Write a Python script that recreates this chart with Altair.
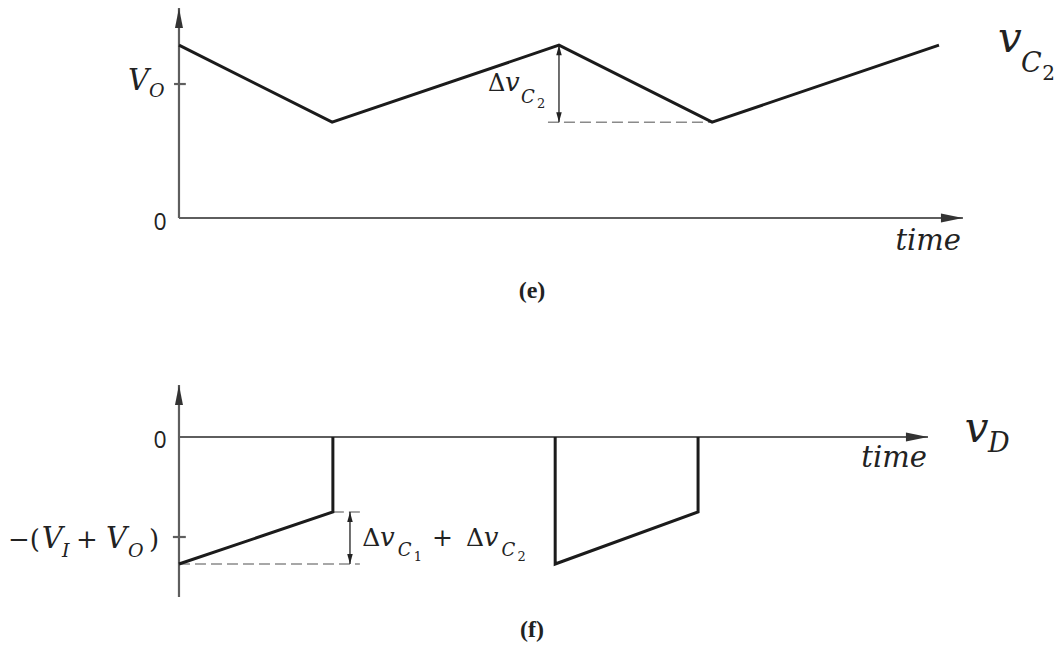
import altair as alt
import pandas as pd

# ---- waveforms (time in switching periods, V_O = 10 and V_I + V_O = 10 units) ----
vc2_time = [0.0, 0.403, 1.0, 1.403, 2.0]
vc2_value = [12.9, 7.15, 12.9, 7.15, 12.9]

vd_time = [0.0, 0.405, 0.405, 0.99, 0.99, 1.366, 1.366]
vd_value = [-12.7, -7.5, 0.0, 0.0, -12.7, -7.5, 0.0]
vd_pulse = [1, 1, 1, 2, 2, 2, 2]

V_O = 10.0
V_IO = 10.0          # V_I + V_O
VC2_MAX, VC2_MIN = 12.9, 7.15
VD_LOW, VD_HIGH = -12.7, -7.5

# ---- frame ----
T_DOMAIN = [-0.471, 2.329]
TOP_DOMAIN = [-7.61, 16.27]
BOT_DOMAIN = [-22.2, 11.7]
W, H_TOP, H_BOT = 1064, 320, 339

AXIS_COLOR = "#5e5e5e"
WAVE_COLOR = "#1b1b1b"
DASH_COLOR = "#8a8a8a"
TEXT_COLOR = "#222222"

FONTS = {
    "it": dict(font="DejaVu Serif", fontStyle="italic", fontWeight="normal"),
    "up": dict(font="DejaVu Serif", fontStyle="normal", fontWeight="normal"),
    "sans": dict(font="Open Sans", fontStyle="normal", fontWeight="normal"),
    "bold": dict(font="Liberation Serif", fontStyle="normal", fontWeight="bold"),
}

ARROW_UP = "M 0 0 L 0.4 2 L -0.4 2 Z"
ARROW_RIGHT = "M 0 0 L -2 0.4 L -2 -0.4 Z"
HEAD_UP = "M 0 0 L 0.55 2 L -0.55 2 Z"
HEAD_DOWN = "M 0 0 L 0.55 -2 L -0.55 -2 Z"


def scales(ydom):
    xs = alt.Scale(domain=T_DOMAIN, nice=False, zero=False)
    ys = alt.Scale(domain=ydom, nice=False, zero=False)
    return xs, ys


def rules(rows, ydom, color, width, dash=None):
    xs, ys = scales(ydom)
    df = pd.DataFrame(rows, columns=["t", "t2", "v", "v2"])
    kw = dict(color=color, strokeWidth=width)
    if dash:
        kw["strokeDash"] = dash
    return alt.Chart(df).mark_rule(**kw).encode(
        x=alt.X("t:Q", scale=xs, axis=None),
        x2="t2:Q",
        y=alt.Y("v:Q", scale=ys, axis=None),
        y2="v2:Q",
    )


def heads(rows, ydom, shape, size, color):
    xs, ys = scales(ydom)
    df = pd.DataFrame(rows, columns=["t", "v"])
    return alt.Chart(df).mark_point(
        shape=shape, filled=True, size=size, color=color, opacity=1, strokeWidth=0
    ).encode(
        x=alt.X("t:Q", scale=xs, axis=None),
        y=alt.Y("v:Q", scale=ys, axis=None),
    )


def labels(pieces, ydom):
    xs, ys = scales(ydom)
    layers = []
    for text, t, v, size, kind, align in pieces:
        df = pd.DataFrame({"text": [text], "t": [t], "v": [v]})
        layers.append(
            alt.Chart(df).mark_text(
                align=align, baseline="alphabetic", color=TEXT_COLOR,
                fontSize=size, **FONTS[kind]
            ).encode(
                x=alt.X("t:Q", scale=xs, axis=None),
                y=alt.Y("v:Q", scale=ys, axis=None),
                text="text:N",
            )
        )
    return layers


# ---------------- panel (e): capacitor voltage v_C2 ----------------
xs, ys = scales(TOP_DOMAIN)
vc2_df = pd.DataFrame({"t": vc2_time, "v": vc2_value})
vc2_line = alt.Chart(vc2_df).mark_line(color=WAVE_COLOR, strokeWidth=3).encode(
    x=alt.X("t:Q", scale=xs, axis=None),
    y=alt.Y("v:Q", scale=ys, axis=None),
)

top_pieces = [
    ("V", -0.134, 9.55, 29, "it", "left"),
    ("O", -0.079, 9.03, 19, "it", "left"),
    ("0", -0.05, -0.90, 23, "sans", "center"),
    ("time", 2.058, -2.39, 29, "it", "right"),
    ("v", 2.155, 12.39, 42, "it", "left"),
    ("C", 2.216, 10.90, 27, "it", "left"),
    ("2", 2.272, 10.30, 20, "up", "left"),
    ("Δ", 0.813, 9.48, 24, "up", "left"),
    ("v", 0.858, 9.48, 26, "it", "left"),
    ("C", 0.900, 8.58, 18, "it", "left"),
    ("2", 0.942, 8.20, 13, "up", "left"),
    ("(e)", 0.929, -5.95, 24, "bold", "center"),
]

top = alt.layer(
    rules([(0, 0, 0, 15.67), (0, 2.063, 0, 0)], TOP_DOMAIN, AXIS_COLOR, 2.2),
    rules([(-0.013, 0.018, V_O, V_O)], TOP_DOMAIN, AXIS_COLOR, 2.2),
    rules([(0.971, 1.403, VC2_MIN, VC2_MIN)], TOP_DOMAIN, DASH_COLOR, 1.6, [11, 5]),
    rules([(1.0, 1.0, VC2_MIN, VC2_MAX)], TOP_DOMAIN, "#222222", 1.3),
    vc2_line,
    heads([(0, 15.67)], TOP_DOMAIN, ARROW_UP, 400, "#333333"),
    heads([(2.063, 0)], TOP_DOMAIN, ARROW_RIGHT, 484, "#333333"),
    heads([(1.0, VC2_MAX)], TOP_DOMAIN, HEAD_UP, 100, "#222222"),
    heads([(1.0, VC2_MIN)], TOP_DOMAIN, HEAD_DOWN, 100, "#222222"),
    *labels(top_pieces, TOP_DOMAIN),
).properties(width=W, height=H_TOP)

# ---------------- panel (f): diode voltage v_D ----------------
xs, ys = scales(BOT_DOMAIN)
vd_df = pd.DataFrame({"t": vd_time, "v": vd_value, "pulse": vd_pulse,
                      "k": list(range(len(vd_time)))})
vd_line = alt.Chart(vd_df).mark_line(color=WAVE_COLOR, strokeWidth=3).encode(
    x=alt.X("t:Q", scale=xs, axis=None),
    y=alt.Y("v:Q", scale=ys, axis=None),
    detail="pulse:N",
    order="k:Q",
)

bot_pieces = [
    ("0", -0.05, -1.1, 23, "sans", "center"),
    ("−(", -0.450, -11.1, 26, "up", "left"),
    ("V", -0.361, -11.1, 29, "it", "left"),
    ("I", -0.308, -12.0, 19, "it", "left"),
    ("+", -0.271, -11.1, 26, "up", "left"),
    ("V", -0.192, -11.1, 29, "it", "left"),
    ("O", -0.134, -12.0, 19, "it", "left"),
    (")", -0.079, -11.1, 26, "up", "left"),
    ("time", 1.968, -3.0, 29, "it", "right"),
    ("v", 2.068, -0.5, 42, "it", "left"),
    ("D", 2.129, -1.5, 27, "it", "left"),
    ("Δ", 0.482, -10.9, 25, "up", "left"),
    ("v", 0.529, -10.9, 26, "it", "left"),
    ("C", 0.576, -11.9, 18, "it", "left"),
    ("1", 0.618, -12.4, 13, "up", "left"),
    ("+", 0.666, -10.9, 25, "up", "left"),
    ("Δ", 0.755, -10.9, 25, "up", "left"),
    ("v", 0.802, -10.9, 26, "it", "left"),
    ("C", 0.849, -11.9, 18, "it", "left"),
    ("2", 0.891, -12.4, 13, "up", "left"),
    ("(f)", 0.929, -20.0, 24, "bold", "center"),
]

bottom = alt.layer(
    rules([(0, 0, -16.0, 5.2), (0, 1.971, 0, 0)], BOT_DOMAIN, AXIS_COLOR, 2.2),
    rules([(-0.016, 0.018, -V_IO, -V_IO)], BOT_DOMAIN, AXIS_COLOR, 2.2),
    rules([(0, 0.476, VD_LOW, VD_LOW), (0.405, 0.476, VD_HIGH, VD_HIGH)],
          BOT_DOMAIN, DASH_COLOR, 1.6, [11, 5]),
    rules([(0.45, 0.45, VD_LOW, VD_HIGH)], BOT_DOMAIN, "#222222", 1.3),
    vd_line,
    heads([(0, 5.2)], BOT_DOMAIN, ARROW_UP, 400, "#333333"),
    heads([(1.971, 0)], BOT_DOMAIN, ARROW_RIGHT, 484, "#333333"),
    heads([(0.45, VD_HIGH)], BOT_DOMAIN, HEAD_UP, 100, "#222222"),
    heads([(0.45, VD_LOW)], BOT_DOMAIN, HEAD_DOWN, 100, "#222222"),
    *labels(bot_pieces, BOT_DOMAIN),
).properties(width=W, height=H_BOT)

chart = (
    alt.vconcat(top, bottom, spacing=0)
    .properties(padding=0, background="white")
    .configure_view(stroke=None)
)

chart.save("out.html", embed_options={"renderer": "svg", "actions": False})
